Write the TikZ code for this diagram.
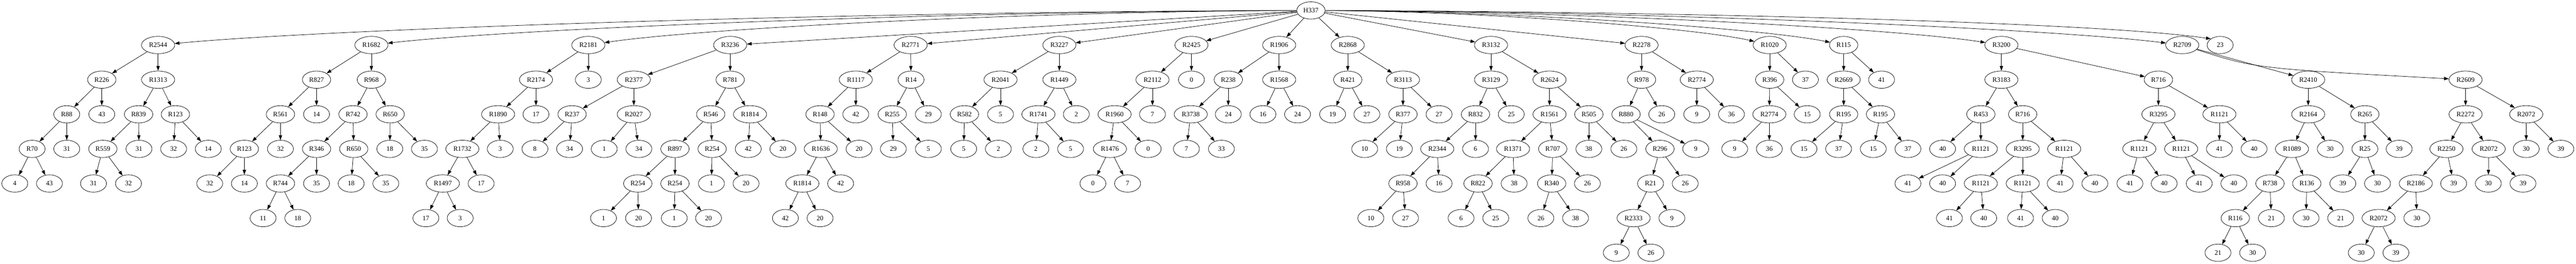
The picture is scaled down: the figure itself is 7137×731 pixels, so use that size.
\documentclass[tikz,border=0pt]{standalone}
\usepackage{fontspec}
\setmainfont{Liberation Serif}
\usetikzlibrary{shapes.geometric,arrows.meta}
\tikzset{
  nd/.style={draw, ellipse, inner sep=0pt, minimum height=36pt, line width=0.8pt, font=\fontsize{14}{16}\selectfont},
  lf/.style={nd, minimum width=54pt},
  rtwo/.style={nd, minimum width=54pt},
  rthree/.style={nd, minimum width=59pt},
  rfour/.style={nd, minimum width=69pt},
  ed/.style={-{Triangle[length=10pt,width=7pt]}, line width=0.8pt},
}
\begin{document}
\begin{tikzpicture}[x=0.75pt,y=-0.75pt]
\fill[white] (0,0) rectangle (7137,731);
\useasboundingbox (0,0) rectangle (7137,731);
% root
\node[rthree] (h) at (3632,29) {H337};
% R2544
\node[rfour] (a) at (438,125) {R2544};
\node[rthree] (a1) at (282,221) {R226};
\node[rfour] (a2) at (438,221) {R1313};
\node[rtwo] (a11) at (185,317) {R88};
\node[lf] (a12) at (282,317) {43};
\node[rthree] (a21) at (384,317) {R839};
\node[rthree] (a22) at (486,317) {R123};
\node[rtwo] (a111) at (89,413) {R70};
\node[lf] (a112) at (185,413) {31};
\node[rthree] (a211) at (285,413) {R559};
\node[lf] (a212) at (385,413) {31};
\node[lf] (a221) at (481,413) {32};
\node[lf] (a222) at (577,413) {14};
\node[lf] (a1111) at (41,509) {4};
\node[lf] (a1112) at (137,509) {43};
\node[lf] (a2111) at (259,509) {31};
\node[lf] (a2112) at (356,509) {32};
% R1682
\node[rfour] (b) at (1029,125) {R1682};
\node[rthree] (b1) at (877,221) {R827};
\node[rthree] (b2) at (1029,221) {R968};
\node[rthree] (b11) at (777,317) {R561};
\node[lf] (b12) at (877,317) {14};
\node[rthree] (b21) at (978,317) {R742};
\node[rthree] (b22) at (1081,317) {R650};
\node[rthree] (b111) at (677,413) {R123};
\node[lf] (b112) at (777,413) {32};
\node[rthree] (b211) at (877,413) {R346};
\node[rthree] (b212) at (980,413) {R650};
\node[lf] (b221) at (1080,413) {18};
\node[lf] (b222) at (1176,413) {35};
\node[lf] (b1111) at (581,509) {32};
\node[lf] (b1112) at (677,509) {14};
\node[rthree] (b2111) at (777,509) {R744};
\node[lf] (b2112) at (877,509) {35};
\node[lf] (b2121) at (973,509) {18};
\node[lf] (b2122) at (1069,509) {35};
\node[lf] (b21111) at (729,605) {11};
\node[lf] (b21112) at (825,605) {18};
% R2181
\node[rfour] (c) at (1630,125) {R2181};
\node[rfour] (c1) at (1485,221) {R2174};
\node[lf] (c2) at (1630,221) {3};
\node[rfour] (c11) at (1380,317) {R1890};
\node[lf] (c12) at (1485,317) {17};
\node[rfour] (c111) at (1281,413) {R1732};
\node[lf] (c112) at (1386,413) {3};
\node[rfour] (c1111) at (1227,509) {R1497};
\node[lf] (c1112) at (1333,509) {17};
\node[lf] (c11111) at (1180,605) {17};
\node[lf] (c11112) at (1275,605) {3};
% R3236
\node[rfour] (d) at (2023,125) {R3236};
\node[rfour] (d1) at (1756,221) {R2377};
\node[rthree] (d2) at (2023,221) {R781};
\node[rthree] (d11) at (1585,317) {R237};
\node[rfour] (d12) at (1756,317) {R2027};
\node[lf] (d111) at (1482,413) {8};
\node[lf] (d112) at (1578,413) {34};
\node[lf] (d121) at (1674,413) {1};
\node[lf] (d122) at (1770,413) {34};
\node[rthree] (d21) at (1969,317) {R546};
\node[rfour] (d22) at (2078,317) {R1814};
\node[rthree] (d211) at (1870,413) {R897};
\node[rthree] (d212) at (1973,413) {R254};
\node[lf] (d221) at (2073,413) {42};
\node[lf] (d222) at (2169,413) {20};
\node[rthree] (d2111) at (1767,509) {R254};
\node[rthree] (d2112) at (1870,509) {R254};
\node[lf] (d2121) at (1971,509) {1};
\node[lf] (d2122) at (2067,509) {20};
\node[lf] (d21111) at (1672,605) {1};
\node[lf] (d21112) at (1769,605) {20};
\node[lf] (d21121) at (1868,605) {1};
\node[lf] (d21122) at (1963,605) {20};
% R2771
\node[rfour] (e) at (2523,125) {R2771};
\node[rfour] (e1) at (2371,221) {R1117};
\node[rtwo] (e2) at (2524,221) {R14};
\node[rthree] (e11) at (2272,317) {R148};
\node[lf] (e12) at (2371,317) {42};
\node[rfour] (e111) at (2274,413) {R1636};
\node[lf] (e112) at (2380,413) {20};
\node[rfour] (e1111) at (2223,509) {R1814};
\node[lf] (e1112) at (2329,509) {42};
\node[lf] (e11111) at (2176,605) {42};
\node[lf] (e11112) at (2272,605) {20};
\node[rthree] (e21) at (2472,317) {R255};
\node[lf] (e22) at (2572,317) {29};
\node[lf] (e211) at (2475,413) {29};
\node[lf] (e212) at (2572,413) {5};
% R3227
\node[rfour] (f) at (2935,125) {R3227};
\node[rfour] (f1) at (2772,221) {R2041};
\node[rfour] (f2) at (2935,221) {R1449};
\node[rthree] (f11) at (2672,317) {R582};
\node[lf] (f12) at (2772,317) {5};
\node[lf] (f111) at (2670,413) {5};
\node[lf] (f112) at (2766,413) {2};
\node[rfour] (f21) at (2877,317) {R1741};
\node[lf] (f22) at (2982,317) {2};
\node[lf] (f211) at (2870,413) {2};
\node[lf] (f212) at (2966,413) {5};
% R2425
\node[rfour] (g) at (3301,125) {R2425};
\node[rfour] (g1) at (3193,221) {R2112};
\node[lf] (g2) at (3301,221) {0};
\node[rfour] (g11) at (3088,317) {R1960};
\node[lf] (g12) at (3193,317) {7};
\node[rfour] (g111) at (3075,413) {R1476};
\node[lf] (g112) at (3181,413) {0};
\node[lf] (g1111) at (3028,509) {0};
\node[lf] (g1112) at (3124,509) {7};
% R1906
\node[rfour] (i) at (3544,125) {R1906};
\node[rthree] (i1) at (3403,221) {R238};
\node[rfour] (i2) at (3544,221) {R1568};
\node[rfour] (i11) at (3299,317) {R3738};
\node[lf] (i12) at (3403,317) {24};
\node[lf] (i111) at (3287,413) {7};
\node[lf] (i112) at (3384,413) {33};
\node[lf] (i21) at (3499,317) {16};
\node[lf] (i22) at (3595,317) {24};
% R2868
\node[rfour] (j) at (3734,125) {R2868};
\node[rthree] (j1) at (3734,221) {R421};
\node[rfour] (j2) at (3887,221) {R3113};
\node[lf] (j11) at (3692,317) {19};
\node[lf] (j12) at (3787,317) {27};
\node[rthree] (j21) at (3887,317) {R377};
\node[lf] (j22) at (3987,317) {27};
\node[lf] (j211) at (3781,413) {10};
\node[lf] (j212) at (3877,413) {19};
% R3132
\node[rfour] (k) at (4131,125) {R3132};
\node[rfour] (k1) at (4131,221) {R3129};
\node[rfour] (k2) at (4293,221) {R2624};
\node[rthree] (k11) at (4088,317) {R832};
\node[lf] (k12) at (4187,317) {25};
\node[rfour] (k111) at (3982,413) {R2344};
\node[lf] (k112) at (4088,413) {6};
\node[rthree] (k1111) at (3887,509) {R958};
\node[lf] (k1112) at (3987,509) {16};
\node[lf] (k11111) at (3798,605) {10};
\node[lf] (k11112) at (3894,605) {27};
\node[rfour] (k21) at (4293,317) {R1561};
\node[rthree] (k22) at (4402,317) {R505};
\node[rfour] (k211) at (4192,413) {R1371};
\node[rthree] (k212) at (4302,413) {R707};
\node[rthree] (k2111) at (4095,509) {R822};
\node[lf] (k2112) at (4195,509) {38};
\node[lf] (k21111) at (4048,605) {6};
\node[lf] (k21112) at (4144,605) {25};
\node[rthree] (k2121) at (4299,509) {R340};
\node[lf] (k2122) at (4398,509) {26};
\node[lf] (k21211) at (4269,605) {26};
\node[lf] (k21212) at (4365,605) {38};
\node[lf] (k221) at (4402,413) {38};
\node[lf] (k222) at (4499,413) {26};
% R2278
\node[rfour] (l) at (4548,125) {R2278};
\node[rthree] (l1) at (4548,221) {R978};
\node[rfour] (l2) at (4701,221) {R2774};
\node[rthree] (l11) at (4505,317) {R880};
\node[lf] (l12) at (4604,317) {26};
\node[rthree] (l111) at (4599,413) {R296};
\node[lf] (l112) at (4698,413) {9};
\node[rtwo] (l1111) at (4573,509) {R21};
\node[lf] (l1112) at (4669,509) {26};
\node[rfour] (l11111) at (4526,605) {R2333};
\node[lf] (l11112) at (4632,605) {9};
\node[lf] (l111111) at (4478,701) {9};
\node[lf] (l111112) at (4574,701) {26};
\node[lf] (l21) at (4701,317) {9};
\node[lf] (l22) at (4797,317) {36};
% R1020
\node[rfour] (m) at (4903,125) {R1020};
\node[rthree] (m1) at (4903,221) {R396};
\node[lf] (m2) at (5002,221) {37};
\node[rfour] (m11) at (4902,317) {R2774};
\node[lf] (m12) at (5007,317) {15};
\node[lf] (m111) at (4806,413) {9};
\node[lf] (m112) at (4902,413) {36};
% R115
\node[rthree] (o) at (5108,125) {R115};
\node[rfour] (o1) at (5108,221) {R2669};
\node[lf] (o2) at (5213,221) {41};
\node[rthree] (o11) at (5108,317) {R195};
\node[rthree] (o12) at (5210,317) {R195};
\node[lf] (o111) at (4998,413) {15};
\node[lf] (o112) at (5094,413) {37};
\node[lf] (o121) at (5190,413) {15};
\node[lf] (o122) at (5286,413) {37};
% R3200
\node[rfour] (p) at (5545,125) {R3200};
\node[rfour] (p1) at (5545,221) {R3183};
\node[rthree] (p2) at (5980,221) {R716};
\node[rthree] (p11) at (5488,317) {R453};
\node[rthree] (p12) at (5604,317) {R716};
\node[lf] (p111) at (5382,413) {40};
\node[rfour] (p112) at (5488,413) {R1121};
\node[lf] (p1121) at (5286,509) {41};
\node[lf] (p1122) at (5382,509) {40};
\node[rfour] (p121) at (5604,413) {R3295};
\node[rfour] (p122) at (5719,413) {R1121};
\node[rfour] (p1211) at (5488,509) {R1121};
\node[rfour] (p1212) at (5604,509) {R1121};
\node[lf] (p12111) at (5401,605) {41};
\node[lf] (p12112) at (5496,605) {40};
\node[lf] (p12121) at (5598,605) {41};
\node[lf] (p12122) at (5694,605) {40};
\node[lf] (p1221) at (5708,509) {41};
\node[lf] (p1222) at (5804,509) {40};
\node[rfour] (p21) at (5980,317) {R3295};
\node[rfour] (p22) at (6149,317) {R1121};
\node[rfour] (p211) at (5927,413) {R1121};
\node[rfour] (p212) at (6043,413) {R1121};
\node[lf] (p2111) at (5901,509) {41};
\node[lf] (p2112) at (5996,509) {40};
\node[lf] (p2121) at (6093,509) {41};
\node[lf] (p2122) at (6189,509) {40};
\node[lf] (p221) at (6149,413) {41};
\node[lf] (p222) at (6245,413) {40};
% R2709
\node[rfour] (q) at (6046,125) {R2709};
\node[rfour] (q1) at (6395,221) {R2410};
\node[rfour] (q2) at (6831,221) {R2609};
\node[rfour] (q11) at (6395,317) {R2164};
\node[rthree] (q12) at (6552,317) {R265};
\node[rfour] (q111) at (6350,413) {R1089};
\node[lf] (q112) at (6456,413) {30};
\node[rthree] (q1111) at (6289,509) {R738};
\node[rthree] (q1112) at (6391,509) {R136};
\node[rthree] (q11111) at (6193,605) {R116};
\node[lf] (q11112) at (6293,605) {21};
\node[lf] (q111111) at (6145,701) {21};
\node[lf] (q111112) at (6241,701) {30};
\node[lf] (q11121) at (6389,605) {30};
\node[lf] (q11122) at (6485,605) {21};
\node[rtwo] (q121) at (6552,413) {R25};
\node[lf] (q122) at (6647,413) {39};
\node[lf] (q1211) at (6491,509) {39};
\node[lf] (q1212) at (6587,509) {30};
\node[rfour] (q21) at (6831,317) {R2272};
\node[rfour] (q22) at (6999,317) {R2072};
\node[rfour] (q211) at (6778,413) {R2250};
\node[rfour] (q212) at (6895,413) {R2072};
\node[rfour] (q2111) at (6693,509) {R2186};
\node[lf] (q2112) at (6798,509) {39};
\node[rfour] (q21111) at (6590,605) {R2072};
\node[lf] (q21112) at (6696,605) {30};
\node[lf] (q211111) at (6542,701) {30};
\node[lf] (q211112) at (6638,701) {39};
\node[lf] (q2121) at (6894,509) {30};
\node[lf] (q2122) at (6990,509) {39};
\node[lf] (q221) at (6999,413) {30};
\node[lf] (q222) at (7095,413) {39};
% 23
\node[lf] (t) at (6151,125) {23};

% root edges
\foreach \c in {d,e,f,g,i,j,k,l} \draw[ed] (h) -- (\c);
\draw[ed] (h) .. controls (2354,32) and (917,80) .. (a);
\draw[ed] (h) .. controls (2591,32) and (1419,80) .. (b);
\draw[ed] (h) .. controls (2831,32) and (1930,80) .. (c);
\draw[ed] (h) .. controls (4140,32) and (4712,80) .. (m);
\draw[ed] (h) .. controls (4222,32) and (4887,80) .. (o);
\draw[ed] (h) .. controls (4397,32) and (5258,80) .. (p);
\draw[ed] (h) .. controls (4598,32) and (5684,80) .. (q);
\draw[ed] (h) .. controls (4600,32) and (5800,60) .. (t.north west);
\draw[ed] (q) .. controls (6250,190) .. (q2);

% tree edges
\foreach \p/\c in {a/a1,a/a2,a1/a11,a1/a12,a2/a21,a2/a22,a11/a111,a11/a112,a21/a211,a21/a212,a22/a221,a22/a222,a111/a1111,a111/a1112,a211/a2111,a211/a2112,
b/b1,b/b2,b1/b11,b1/b12,b2/b21,b2/b22,b11/b111,b11/b112,b21/b211,b21/b212,b22/b221,b22/b222,b111/b1111,b111/b1112,b211/b2111,b211/b2112,b212/b2121,b212/b2122,b2111/b21111,b2111/b21112,
c/c1,c/c2,c1/c11,c1/c12,c11/c111,c11/c112,c111/c1111,c111/c1112,c1111/c11111,c1111/c11112,
d/d1,d/d2,d1/d11,d1/d12,d11/d111,d11/d112,d12/d121,d12/d122,d2/d21,d2/d22,d21/d211,d21/d212,d22/d221,d22/d222,d211/d2111,d211/d2112,d212/d2121,d212/d2122,d2111/d21111,d2111/d21112,d2112/d21121,d2112/d21122,
e/e1,e/e2,e1/e11,e1/e12,e11/e111,e11/e112,e111/e1111,e111/e1112,e1111/e11111,e1111/e11112,e2/e21,e2/e22,e21/e211,e21/e212,
f/f1,f/f2,f1/f11,f1/f12,f11/f111,f11/f112,f2/f21,f2/f22,f21/f211,f21/f212,
g/g1,g/g2,g1/g11,g1/g12,g11/g111,g11/g112,g111/g1111,g111/g1112,
i/i1,i/i2,i1/i11,i1/i12,i11/i111,i11/i112,i2/i21,i2/i22,
j/j1,j/j2,j1/j11,j1/j12,j2/j21,j2/j22,j21/j211,j21/j212,
k/k1,k/k2,k1/k11,k1/k12,k11/k111,k11/k112,k111/k1111,k111/k1112,k1111/k11111,k1111/k11112,k2/k21,k2/k22,k21/k211,k21/k212,k211/k2111,k211/k2112,k2111/k21111,k2111/k21112,k212/k2121,k212/k2122,k2121/k21211,k2121/k21212,k22/k221,k22/k222,
l/l1,l/l2,l1/l11,l1/l12,l11/l111,l11/l112,l111/l1111,l111/l1112,l1111/l11111,l1111/l11112,l11111/l111111,l11111/l111112,l2/l21,l2/l22,
m/m1,m/m2,m1/m11,m1/m12,m11/m111,m11/m112,
o/o1,o/o2,o1/o11,o1/o12,o11/o111,o11/o112,o12/o121,o12/o122,
p/p1,p/p2,p1/p11,p1/p12,p11/p111,p11/p112,p112/p1121,p112/p1122,p12/p121,p12/p122,p121/p1211,p121/p1212,p1211/p12111,p1211/p12112,p1212/p12121,p1212/p12122,p122/p1221,p122/p1222,p2/p21,p2/p22,p21/p211,p21/p212,p211/p2111,p211/p2112,p212/p2121,p212/p2122,p22/p221,p22/p222,
q/q1,q1/q11,q1/q12,q11/q111,q11/q112,q111/q1111,q111/q1112,q1111/q11111,q1111/q11112,q11111/q111111,q11111/q111112,q1112/q11121,q1112/q11122,q12/q121,q12/q122,q121/q1211,q121/q1212,q2/q21,q2/q22,q21/q211,q21/q212,q211/q2111,q211/q2112,q2111/q21111,q2111/q21112,q21111/q211111,q21111/q211112,q212/q2121,q212/q2122,q22/q221,q22/q222}
  \draw[ed] (\p) -- (\c);
\end{tikzpicture}
\end{document}
